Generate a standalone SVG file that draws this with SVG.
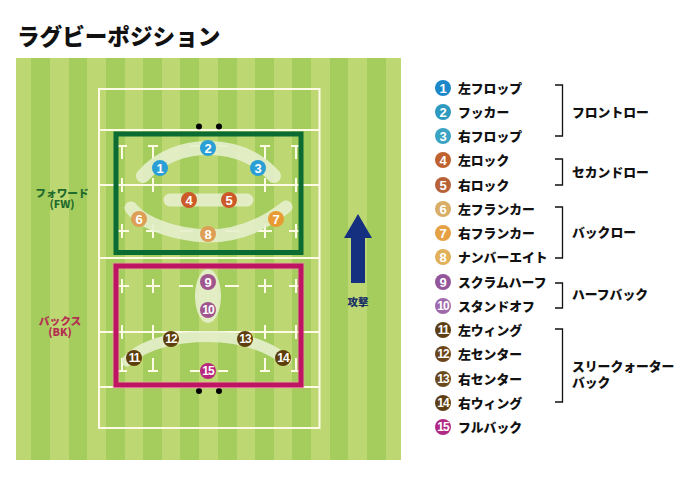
<svg xmlns="http://www.w3.org/2000/svg" width="691" height="494" viewBox="0 0 691 494">
<style>
text{font-family:"Noto Sans CJK JP","Noto Sans",sans-serif;font-weight:900}
.s{fill:#a5cd5e}
.l{fill:none;stroke:#fdfbe6;stroke-width:2}
.t{fill:none;stroke:#fdfbe6;stroke-width:2}
.b{fill:none;stroke:#e6f0cc;stroke-linecap:round;stroke-opacity:.9}
.n{fill:#fff;font-size:13px;text-anchor:middle;font-family:"Liberation Sans",sans-serif;font-weight:700}
.m{fill:#fff;font-size:12px;text-anchor:middle;font-family:"Liberation Sans",sans-serif;font-weight:700;letter-spacing:-1px}
.k{fill:#111;font-size:12.8px}
.g{fill:#111;font-size:12.8px}
.br{fill:none;stroke:#111;stroke-width:1.3}
.d{fill:#000}
</style>
<g id="title"><text x="17" y="45" font-size="22.6" fill="#111">ラグビーポジション</text></g>
<g id="pitch">
<rect x="16" y="58" width="385" height="402" fill="#bdd873"/>
<rect class="s" x="31" y="58" width="19" height="402"/><rect class="s" x="69" y="58" width="18" height="402"/><rect class="s" x="106" y="58" width="19" height="402"/><rect class="s" x="143" y="58" width="19" height="402"/><rect class="s" x="180" y="58" width="19" height="402"/><rect class="s" x="218" y="58" width="19" height="402"/><rect class="s" x="255" y="58" width="19" height="402"/><rect class="s" x="292" y="58" width="19" height="402"/><rect class="s" x="330" y="58" width="18" height="402"/><rect class="s" x="367" y="58" width="19" height="402"/>
<rect class="l" x="99" y="89" width="220.500" height="339"/>
<path class="l" d="M99 130H320M99 185H320M99 258H320M99 332H320M99 387H320"/>
<path class="t" d="M117 146H127M122 146V159M148 146H158M153 146V159M260 146H270M265 146V159M291 146H301M296 146V159M190 146H200M218 146H228
M122 178V192M153 178V192M265 178V192M296 178V192
M115 231H129M146 231H160M122 224V238M153 224V238M179 231H193M225 231H239M258 231H272M289 231H303M265 224V238M296 224V238
M115 286H129M146 286H160M122 279V293M153 279V293M179 286H193M225 286H239M258 286H272M289 286H303M265 279V293M296 279V293
M122 325V339M153 325V339M265 325V339M296 325V339
M117 371H127M122 358V371M148 371H158M153 358V371M190 371H200M218 371H228M260 371H270M265 358V371M291 371H301M296 358V371"/>
<circle class="d" cx="199" cy="126.500" r="3"/><circle class="d" cx="219" cy="126.500" r="3"/><circle class="d" cx="199" cy="391" r="3"/><circle class="d" cx="219" cy="391" r="3"/>
</g>
<g id="formation-bands">
<path class="b" stroke-width="14" d="M143 176C160 156 185 148 208 148C232 148 255 155 274 176"/>
<path class="b" stroke-width="13" d="M170 200H247"/>
<path class="b" stroke-width="13" d="M131 208C145 226 180 235 208 236C235 236 262 226 286 207"/>
<ellipse cx="208" cy="296" rx="13" ry="27" fill="#e6f0cc" fill-opacity=".9"/>
<path class="b" stroke-width="11" d="M127 361C145 342 180 336.500 208 336.500C235 336.500 262 342 286 360"/>
</g>
<g id="forwards-box"><rect x="116" y="134" width="185" height="118.500" fill="none" stroke="#0a6b33" stroke-width="5"/></g>
<g id="backs-box"><rect x="116" y="266" width="185" height="119" fill="none" stroke="#f0a0a8" stroke-width="7" stroke-opacity=".5"/><rect x="116" y="266" width="185" height="119" fill="none" stroke="#bf1463" stroke-width="5"/></g>
<g id="label-fw"><text fill="#1f6b2c" font-size="10.700" text-anchor="middle"><tspan x="62" y="197">フォワード</tspan><tspan x="62" y="208">(FW)</tspan></text></g>
<g id="label-bk"><text fill="#b32f50" font-size="10.700" text-anchor="middle"><tspan x="60" y="325">バックス</tspan><tspan x="60" y="335.500">(BK)</tspan></text></g>
<g id="attack-arrow"><path d="M358 214L372 238H365V283H351V238H344Z" fill="#14307f"/><text x="358" y="306" fill="#1c3366" font-size="10.500" text-anchor="middle">攻撃</text></g>
<g id="p1"><circle cx="160" cy="168" r="8" fill="#2a9fd6"/><text class="n" x="160" y="172.500">1</text></g>
<g id="p2"><circle cx="208" cy="148" r="8" fill="#2a9fd6"/><text class="n" x="208" y="152.500">2</text></g>
<g id="p3"><circle cx="258" cy="168" r="8" fill="#2a9fd6"/><text class="n" x="258" y="172.500">3</text></g>
<g id="p4"><circle cx="189" cy="200" r="8" fill="#cc5a28"/><text class="n" x="189" y="204.500">4</text></g>
<g id="p5"><circle cx="229" cy="200" r="8" fill="#cc5a28"/><text class="n" x="229" y="204.500">5</text></g>
<g id="p6"><circle cx="139" cy="219" r="8" fill="#dd9f55"/><text class="n" x="139" y="223.500">6</text></g>
<g id="p7"><circle cx="276" cy="219" r="8" fill="#e89a33"/><text class="n" x="276" y="223.500">7</text></g>
<g id="p8"><circle cx="208" cy="234" r="8" fill="#dd9f55"/><text class="n" x="208" y="238.500">8</text></g>
<g id="p9"><circle cx="208" cy="282" r="8" fill="#a0558f"/><text class="n" x="208" y="286.500">9</text></g>
<g id="p10"><circle cx="208" cy="310" r="8" fill="#a0558f"/><text class="m" x="208" y="314.300">10</text></g>
<g id="p11"><circle cx="134" cy="358" r="8" fill="#5e3e0b"/><text class="m" x="134" y="362.300">11</text></g>
<g id="p12"><circle cx="171" cy="339" r="8" fill="#5e3e0b"/><text class="m" x="171" y="343.300">12</text></g>
<g id="p13"><circle cx="245" cy="339" r="8" fill="#5e3e0b"/><text class="m" x="245" y="343.300">13</text></g>
<g id="p14"><circle cx="283" cy="358" r="8" fill="#5e3e0b"/><text class="m" x="283" y="362.300">14</text></g>
<g id="p15"><circle cx="208" cy="371" r="8" fill="#b8277e"/><text class="m" x="208" y="375.300">15</text></g>
<g id="legend1"><circle cx="443" cy="88" r="8" fill="#1c87c9"/><text class="n" x="443" y="92.500">1</text><text class="k" x="458" y="92.500">左フロップ</text></g>
<g id="legend2"><circle cx="443" cy="112" r="8" fill="#2e9abf"/><text class="n" x="443" y="116.500">2</text><text class="k" x="458" y="116.500">フッカー</text></g>
<g id="legend3"><circle cx="443" cy="136" r="8" fill="#3ba3c3"/><text class="n" x="443" y="140.500">3</text><text class="k" x="458" y="140.500">右フロップ</text></g>
<g id="legend4"><circle cx="443" cy="160" r="8" fill="#c0622f"/><text class="n" x="443" y="164.500">4</text><text class="k" x="458" y="165">左ロック</text></g>
<g id="legend5"><circle cx="443" cy="185" r="8" fill="#b8623a"/><text class="n" x="443" y="189.500">5</text><text class="k" x="458" y="189.500">右ロック</text></g>
<g id="legend6"><circle cx="443" cy="209" r="8" fill="#d9ae66"/><text class="n" x="443" y="213.500">6</text><text class="k" x="458" y="213.500">左フランカー</text></g>
<g id="legend7"><circle cx="443" cy="233" r="8" fill="#e5a144"/><text class="n" x="443" y="237.500">7</text><text class="k" x="458" y="237.500">右フランカー</text></g>
<g id="legend8"><circle cx="443" cy="257" r="8" fill="#e0b05a"/><text class="n" x="443" y="261.500">8</text><text class="k" x="458" y="261.500">ナンバーエイト</text></g>
<g id="legend9"><circle cx="443" cy="282" r="8" fill="#93569a"/><text class="n" x="443" y="286.500">9</text><text class="k" x="458" y="286.500">スクラムハーフ</text></g>
<g id="legend10"><circle cx="443" cy="306" r="8" fill="#9f6aac"/><text class="m" x="443" y="310.300">10</text><text class="k" x="458" y="310.500">スタンドオフ</text></g>
<g id="legend11"><circle cx="443" cy="330" r="8" fill="#5e3e14"/><text class="m" x="443" y="334.300">11</text><text class="k" x="458" y="334.500">左ウィング</text></g>
<g id="legend12"><circle cx="443" cy="354" r="8" fill="#6b451c"/><text class="m" x="443" y="358.300">12</text><text class="k" x="458" y="359">左センター</text></g>
<g id="legend13"><circle cx="443" cy="379" r="8" fill="#6b4a1e"/><text class="m" x="443" y="383.300">13</text><text class="k" x="458" y="383.500">右センター</text></g>
<g id="legend14"><circle cx="443" cy="403" r="8" fill="#5e3e14"/><text class="m" x="443" y="407.300">14</text><text class="k" x="458" y="407.500">右ウィング</text></g>
<g id="legend15"><circle cx="443" cy="427" r="8" fill="#b02a85"/><text class="m" x="443" y="431.300">15</text><text class="k" x="458" y="431.500">フルバック</text></g>
<g id="connectors">
<path class="br" d="M555 85H562.500V136H555"/>
<path class="br" d="M555 159H562.500V185H555"/>
<path class="br" d="M555 207H562.500V258H555"/>
<path class="br" d="M555 283H562.500V308H555"/>
<path class="br" d="M555 329H562.500V402H555"/>
</g>
<g id="group-front"><text class="g" x="572" y="116.500">フロントロー</text></g>
<g id="group-second"><text class="g" x="572" y="176.500">セカンドロー</text></g>
<g id="group-back"><text class="g" x="572" y="237">バックロー</text></g>
<g id="group-half"><text class="g" x="572" y="298.500">ハーフバック</text></g>
<g id="group-three"><text class="g"><tspan x="572" y="371">スリークォーター</tspan><tspan x="572" y="386.500">バック</tspan></text></g>
</svg>
